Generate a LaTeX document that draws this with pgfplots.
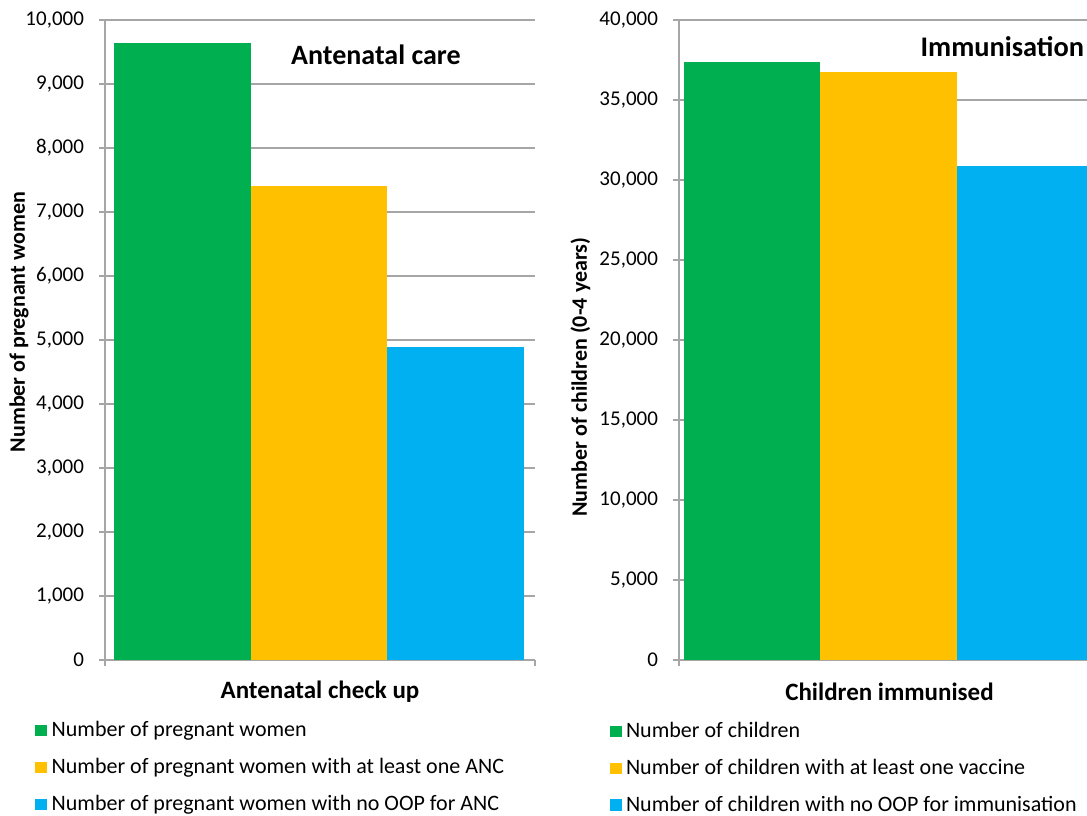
\documentclass[border=0pt]{standalone}
\usepackage{fontspec}
\setmainfont{Carlito}
\usepackage{pgfplots}
\pgfplotsset{compat=1.18}
\definecolor{cgreen}{HTML}{00B050}
\definecolor{cyellow}{HTML}{FFC000}
\definecolor{cblue}{HTML}{00B0F0}
\definecolor{cgrid}{HTML}{A6A6A6}
\pgfplotsset{
  myaxis/.style={
    scale only axis,
    height=320pt,
    ymin=0,
    axis lines=left,
    axis line style={-, draw=cgrid, line width=0.7pt},
    ymajorgrids,
    grid style={draw=cgrid, line width=0.7pt},
    tick align=outside,
    major tick length=3pt,
    tick style={draw=cgrid, line width=0.7pt},
    xticklabels={},
    scaled y ticks=false,
    /pgf/number format/assume math mode=true,
    /pgf/number format/1000 sep={,},
    yticklabel style={font=\fontsize{10.5}{12}\selectfont, text=black, xshift=-4pt},
    xlabel style={font=\fontsize{12.5}{14}\selectfont\bfseries},
    ylabel style={font=\fontsize{11}{13}\selectfont\bfseries, rotate=0},
    ybar, bar shift=0pt, bar width=1,
    legend style={draw=none, font=\fontsize{11}{13}\selectfont, anchor=north west,
      row sep=7.3pt, nodes={inner sep=1pt}},
    legend cell align=left,
    legend image code/.code={\fill[##1] (0pt,-2.8pt) rectangle (6pt,2.8pt);},
  }
}
\begin{document}
\begin{tikzpicture}
\useasboundingbox (0,0) rectangle (543.5pt,407.5pt);
\clip (0,0) rectangle (543.5pt,407.5pt);
\begin{axis}[myaxis,
  at={(52.5pt,77.5pt)}, anchor=south west,
  width=215pt,
  xmin=-0.066, xmax=3.08,
  xtick={-0.066,3.08},
  ymax=10000, ytick={0,1000,...,10000},
  xlabel={Antenatal check up},
  xlabel style={at={(axis description cs:0.5,-0.05)}, anchor=center},
  ylabel={Number of pregnant women},
  ylabel style={at={(axis description cs:-0.200,0.528)}, anchor=center},
  legend style={at={(axis description cs:-0.177,-0.086)}},
]
\addplot[fill=cgreen, draw=none] coordinates {(0.5,9640)};
\addlegendentry{\hspace{1.2pt}Number of pregnant women}
\addplot[fill=cyellow, draw=none] coordinates {(1.5,7405)};
\addlegendentry{\hspace{1.2pt}Number of pregnant women with at least one ANC}
\addplot[fill=cblue, draw=none] coordinates {(2.5,4890)};
\addlegendentry{\hspace{1.2pt}Number of pregnant women with no OOP for ANC}
\node[font=\fontsize{14}{16}\selectfont\bfseries, anchor=center] at (axis description cs:0.630,0.945) {Antenatal care};
\end{axis}
\begin{axis}[myaxis,
  at={(339.5pt,77.5pt)}, anchor=south west,
  width=210.5pt,
  xmin=-0.037, xmax=3.05,
  xtick={-0.037},
  ymax=40000, ytick={0,5000,...,40000},
  xlabel={Children immunised},
  xlabel style={at={(axis description cs:0.5,-0.05)}, anchor=center},
  ylabel={Number of children (0-4 years)},
  ylabel style={at={(axis description cs:-0.234,0.442)}, anchor=center},
  legend style={at={(axis description cs:-0.18,-0.087)}},
]
\addplot[fill=cgreen, draw=none] coordinates {(0.5,37380)};
\addlegendentry{\hspace{1.2pt}Number of children}
\addplot[fill=cyellow, draw=none] coordinates {(1.5,36750)};
\addlegendentry{\hspace{1.2pt}Number of children with at least one vaccine}
\addplot[fill=cblue, draw=none] coordinates {(2.5,30880)};
\addlegendentry{\hspace{1.2pt}Number of children with no OOP for immunisation}
\node[font=\fontsize{14.2}{16}\selectfont\bfseries, anchor=center] at (axis description cs:0.768,0.959) {Immunisation};
\end{axis}
\end{tikzpicture}
\end{document}
